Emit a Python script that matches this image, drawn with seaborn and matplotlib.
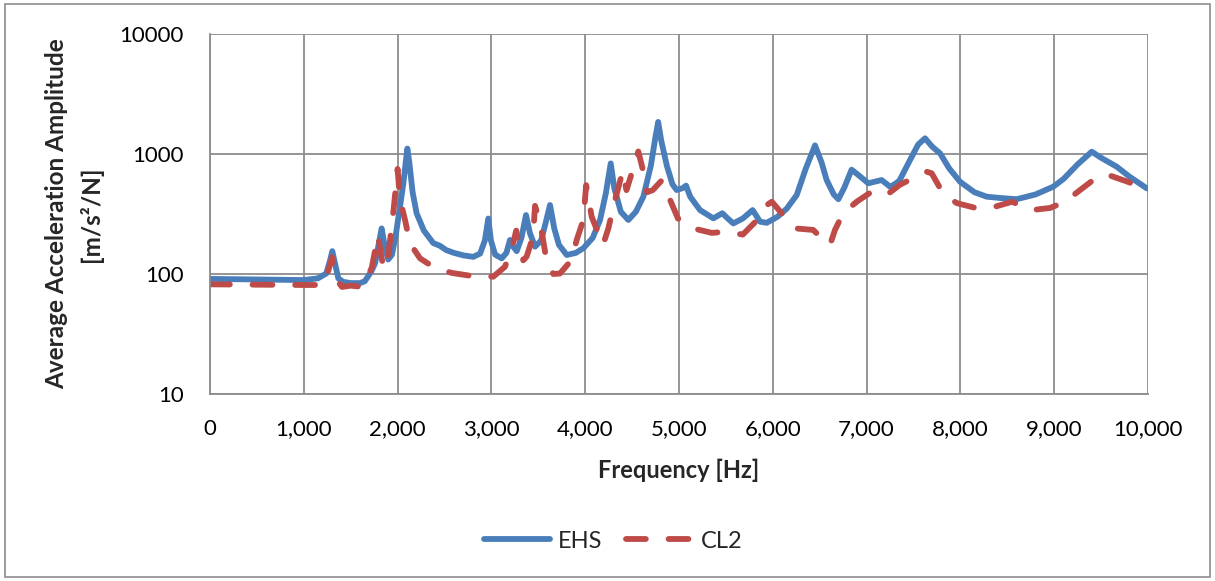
import matplotlib
matplotlib.use("Agg")
import matplotlib.pyplot as plt
import seaborn as sns
import pandas as pd
from matplotlib.patches import Rectangle
from matplotlib.ticker import FixedLocator, FuncFormatter, NullLocator

# ---- data ----
ehs_freq = [0, 500, 1000, 1150, 1240, 1280, 1304, 1330, 1368, 1420, 1500, 1600, 1650, 1720,
            1760, 1800, 1830, 1860, 1900, 1940, 1980, 2020, 2060, 2090, 2104, 2125, 2160,
            2203, 2280, 2380, 2450, 2520, 2600, 2700, 2807, 2880, 2930, 2967, 2995, 3040,
            3110, 3160, 3198, 3230, 3270, 3320, 3369, 3410, 3465, 3530, 3580, 3625, 3670,
            3720, 3803, 3900, 3980, 4080, 4158, 4220, 4272, 4310, 4380, 4460, 4540, 4620,
            4700, 4750, 4778, 4810, 4870, 4930, 4975, 5040, 5075, 5120, 5224, 5366, 5462,
            5520, 5579, 5680, 5785, 5864, 5935, 6050, 6148, 6255, 6350, 6450, 6520, 6574,
            6650, 6699, 6760, 6840, 6900, 7018, 7160, 7250, 7300, 7350, 7463, 7550, 7623,
            7700, 7783, 7880, 7996, 8150, 8280, 8422, 8600, 8800, 8990, 9100, 9250, 9400,
            9500, 9666, 9800, 9986, 10000]
ehs_amp = [91, 90, 89, 92, 101, 130, 155, 125, 92, 86, 84, 84, 87, 105,
           123, 180, 240, 175, 132, 145, 210, 340, 560, 900, 1110, 850, 480,
           320, 230, 181, 172, 158, 150, 143, 139, 148, 190, 290, 190, 145,
           135, 150, 192, 170, 155, 200, 310, 220, 169, 190, 270, 376, 240,
           175, 144, 150, 164, 200, 282, 470, 835, 520, 330, 282, 330, 441,
           800, 1400, 1850, 1300, 800, 560, 501, 520, 545, 440, 341, 291, 321,
           290, 264, 290, 341, 273, 267, 300, 350, 455, 750, 1180, 850, 607,
           460, 420, 520, 740, 680, 570, 607, 534, 560, 600, 891, 1200, 1352,
           1150, 1013, 760, 587, 480, 441, 430, 420, 460, 534, 620, 820, 1045,
           930, 784, 650, 518, 515]

cl2_freq = [0, 1000, 1200, 1245, 1300, 1340, 1407, 1500, 1630, 1725, 1790, 1850, 1900,
            1960, 2000, 2025, 2080, 2132, 2239, 2400, 2580, 2800, 3020, 3145, 3220, 3265,
            3305, 3340, 3376, 3444, 3465, 3518, 3590, 3660, 3731, 3856, 3909, 3980, 4010,
            4069, 4140, 4190, 4247, 4318, 4400, 4440, 4513, 4566, 4620, 4660, 4720, 4814,
            4883, 4989, 5150, 5350, 5490, 5680, 5810, 5935, 5990, 6094, 6237, 6430, 6560,
            6610, 6663, 6750, 6894, 7054, 7214, 7356, 7534, 7640, 7694, 7815, 7960, 8174,
            8387, 8550, 8760, 8955, 9115, 9275, 9416, 9550, 9776, 9950, 10000]
cl2_amp = [82, 81, 81, 95, 138, 92, 78, 80, 78, 113, 210, 110, 140,
           360, 750, 420, 280, 180, 135, 112, 102, 96, 95, 115, 167, 230,
           158, 130, 140, 205, 370, 273, 127, 100, 101, 131, 192, 282, 550,
           300, 218, 175, 240, 414, 720, 500, 760, 1050, 713, 480, 500, 600,
           455, 290, 240, 220, 225, 213, 270, 375, 400, 321, 240, 233, 186,
           175, 233, 321, 400, 485, 455, 555, 650, 712, 690, 470, 390, 353,
           367, 400, 341, 355, 400, 500, 607, 680, 590, 520, 500]

x_ticks = [0, 1000, 2000, 3000, 4000, 5000, 6000, 7000, 8000, 9000, 10000]
y_ticks = [10, 100, 1000, 10000]
series_names = ["EHS", "CL2"]

df = pd.concat([
    pd.DataFrame({"Frequency": ehs_freq, "Amplitude": ehs_amp, "Series": series_names[0]}),
    pd.DataFrame({"Frequency": cl2_freq, "Amplitude": cl2_amp, "Series": series_names[1]}),
], ignore_index=True)

sns.set_style("white")
plt.rcParams["font.family"] = ["Lato", "DejaVu Sans"]

fig = plt.figure(figsize=(12.15, 5.81), dpi=100)
ax = fig.add_axes([210 / 1215, 1 - 394 / 581, (1148 - 210) / 1215, (394 - 34) / 581])

blue = "#4A7EBB"
red = "#BE4B48"
lw = 4.2

sns.lineplot(data=df[df.Series == "EHS"], x="Frequency", y="Amplitude", ax=ax,
             color=blue, linewidth=lw, label="EHS", sort=False,
             solid_capstyle="round", solid_joinstyle="round")
sns.lineplot(data=df[df.Series == "CL2"], x="Frequency", y="Amplitude", ax=ax,
             color=red, linewidth=lw, label="CL2", sort=False,
             dashes=False)
ax.lines[1].set_linestyle((0, (3.4, 3.9)))
ax.lines[1].set_dash_capstyle("round")
ax.lines[1].set_dash_joinstyle("round")

ax.set_yscale("log")
ax.set_xlim(0, 10000)
ax.set_ylim(10, 10000)
ax.xaxis.set_major_locator(FixedLocator(x_ticks))
ax.yaxis.set_major_locator(FixedLocator(y_ticks))
ax.yaxis.set_minor_locator(NullLocator())
ax.xaxis.set_major_formatter(FuncFormatter(lambda v, p: f"{int(v):,}"))
ax.yaxis.set_major_formatter(FuncFormatter(lambda v, p: f"{int(v)}"))

grid_c = "#8c8c8c"
ax.grid(True, which="major", color=grid_c, linewidth=1.3)
ax.set_axisbelow(True)
for s in ["top", "right"]:
    ax.spines[s].set_visible(False)
for s in ["left", "bottom"]:
    ax.spines[s].set_color(grid_c)
    ax.spines[s].set_linewidth(1.3)
ax.tick_params(axis="both", which="major", direction="out", length=6, width=1.3,
               color=grid_c, labelsize=16, labelcolor="black")
ax.tick_params(axis="y", pad=13)
ax.tick_params(axis="x", pad=12)

ax.set_xlabel("Frequency [Hz]", fontsize=17, fontweight="bold", labelpad=14)
ax.set_ylabel("Average Acceleration Amplitude\n[m/s²/N]", fontsize=17.5,
              fontweight="bold", labelpad=12, linespacing=1.5)

handles, labels = ax.get_legend_handles_labels()
leg = ax.legend(handles, labels, loc="center", bbox_to_anchor=(613 / 1215, 1 - 541 / 581),
                bbox_transform=fig.transFigure, ncol=2, frameon=False, fontsize=17,
                handlelength=2.8, columnspacing=1.0, handletextpad=0.35)
for h in leg.get_lines():
    h.set_linewidth(lw)
    h.set_dash_capstyle("round")
    h.set_solid_capstyle("round")

fig.patches.append(Rectangle((5 / 1215, 4 / 581), 1205 / 1215, 573 / 581,
                             transform=fig.transFigure, fill=False,
                             edgecolor="#8c8c8c", linewidth=1.2))

fig.savefig("out.png", dpi=100, facecolor="white")
